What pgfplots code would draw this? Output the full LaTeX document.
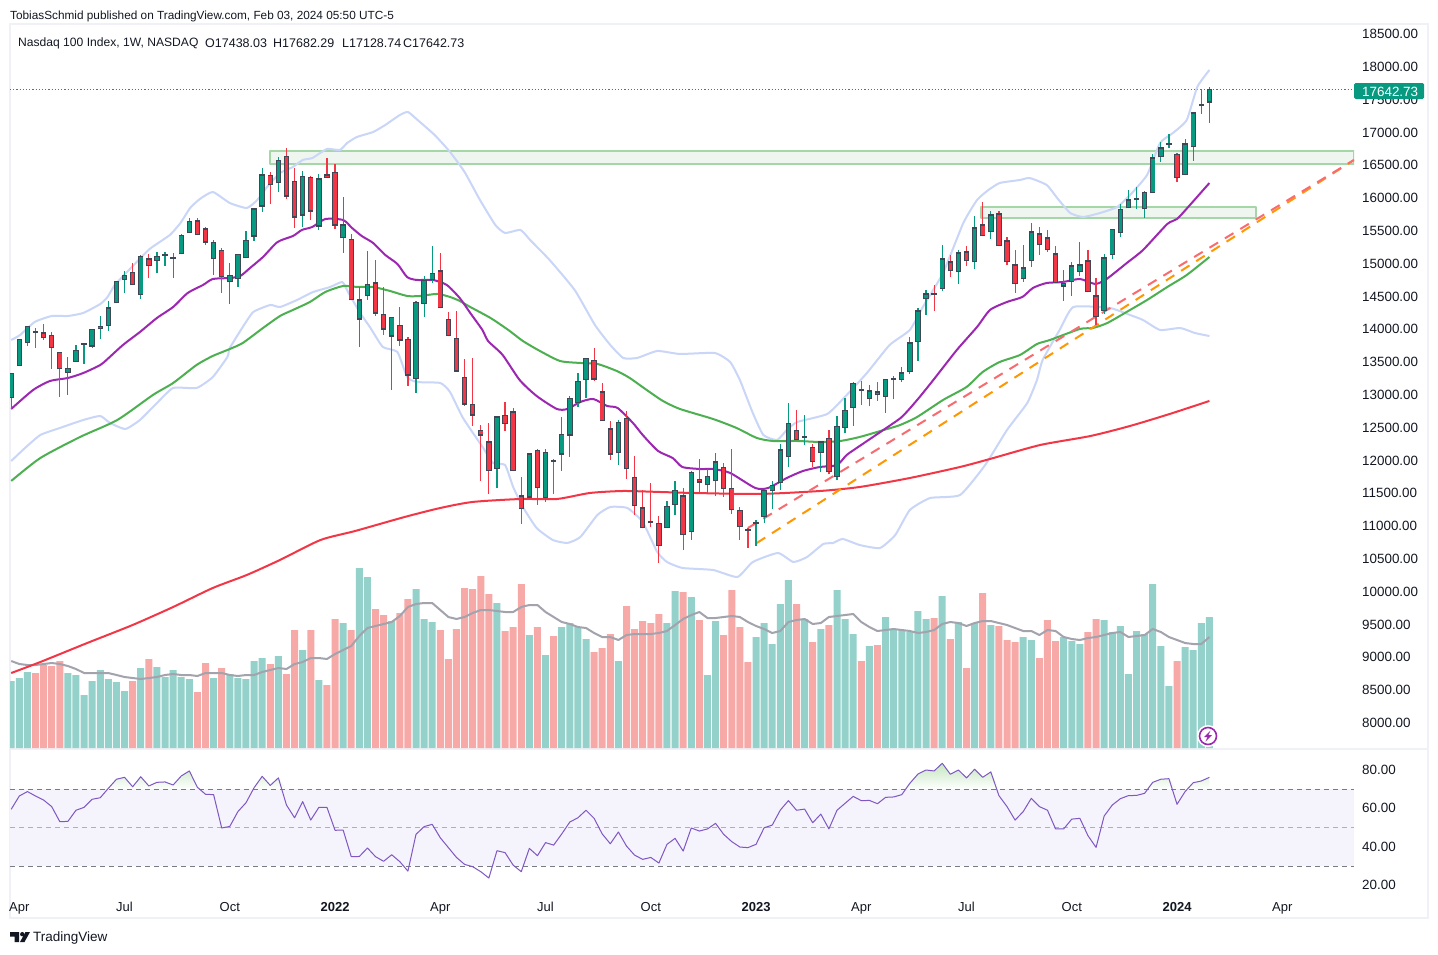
\documentclass[border=0pt]{standalone}
\usepackage{pgfplots}
\usepackage{pgfplotstable}
\usepackage{fontspec}
\setmainfont{Liberation Sans}
\pgfplotsset{compat=1.18}
\definecolor{upc}{HTML}{089981}
\definecolor{dnc}{HTML}{F23645}
\definecolor{edgec}{HTML}{3F4656}
\definecolor{volupc}{HTML}{93D1CA}
\definecolor{voldnc}{HTML}{F7A9A7}
\definecolor{volma}{HTML}{A3A3AD}
\definecolor{bandc}{HTML}{C9D6F8}
\definecolor{ma20}{HTML}{9C27B0}
\definecolor{ma50}{HTML}{4CAF50}
\definecolor{ma200}{HTML}{F23645}
\definecolor{zonef}{HTML}{EAF4EA}
\definecolor{zonel}{HTML}{A5D6A7}
\definecolor{rsil}{HTML}{7E57C2}
\definecolor{rsib}{HTML}{F5F3FB}
\definecolor{rsig}{HTML}{C5E6C0}
\definecolor{rsidash}{HTML}{787B86}
\definecolor{framec}{HTML}{EFF1F7}
\definecolor{txt}{HTML}{131722}
\newcommand{\px}[1]{\fontsize{#1}{#1}\selectfont}

% weekly candles, up weeks
\pgfplotstableread{
i o h l c
0 12933 13314 12765 13314
1 13420 13832 13420 13832
2 13771 14030 13735 14030
7 13314 13557 12983 13390
8 13481 13745 13481 13664
9 13745 13771 13461 13766
10 13720 13984 13705 13984
11 13984 14187 13842 14030
12 14030 14411 13959 14319
13 14380 14716 14380 14716
14 14731 14873 14538 14807
16 14502 15117 14452 15097
18 15020 15163 14843 15097
19 15107 15158 14954 15112
20 15061 15142 14772 15066
21 15127 15437 15127 15417
22 15447 15676 15447 15630
25 15051 15341 14812 15310
27 14700 14990 14375 14807
28 14746 15127 14634 15127
29 15066 15478 15066 15341
30 15396 15838 15335 15828
31 15854 16443 15777 16346
33 16209 16605 16077 16560
36 15716 16392 15544 16316
38 15549 16351 15503 16285
41 15371 15996 15153 15584
43 14131 14624 13720 14441
44 14487 15178 14436 14670
47 13872 14167 13060 14167
50 13222 14411 13019 14396
51 14365 14797 14177 14731
52 14736 15249 14690 14838
60 11851 12658 11571 12658
64 11419 12094 11419 12094
66 11409 12160 11358 12110
68 12074 12643 11825 12384
69 12364 12968 12039 12933
70 12856 13319 12795 13192
71 13207 13542 12938 13542
75 12094 12602 11922 12567
81 10951 11363 10951 11287
82 11302 11673 11155 11531
84 10890 11820 10779 11805
86 11607 11856 11495 11744
87 11668 12094 11449 11972
92 11023 11073 10687 11033
93 11119 11531 11038 11531
94 11515 11668 11251 11607
95 11637 12232 11536 12155
96 12033 12856 11886 12552
98 12333 12679 12226 12343
100 12094 12277 11805 12277
102 11729 12658 11688 12506
103 12475 12933 12399 12750
104 12780 13182 12516 13161
106 12917 13130 12815 13054
108 12957 13222 12714 13222
109 13206 13267 12917 13237
110 13216 13404 13186 13328
111 13328 13867 13303 13785
112 13785 14304 13506 14273
113 14441 14578 14207 14532
115 14593 15264 14563 15066
117 14852 15188 14680 15157
119 15005 15706 14908 15538
121 15462 15782 15365 15736
125 14746 15264 14710 14928
126 15020 15599 14939 15477
130 14634 14883 14421 14695
131 14700 15005 14497 14959
132 14852 15310 14791 14974
135 14258 15132 14212 15081
136 15112 15508 15061 15508
137 15447 15889 15396 15813
138 15828 16102 15828 15965
139 15950 16148 15823 15980
140 15813 16087 15686 16072
141 16056 16651 16056 16605
142 16605 16834 16534 16757
143 16798 16956 16752 16808
145 16331 16879 16331 16818
146 16757 17291 16554 17291
147 17382 17641 17271 17398
148 17438.03 17682.29 17128.74 17642.73
}\upcandles

% weekly candles, down weeks
\pgfplotstableread{
i o h l c
3 13954 13999 13705 13923
4 13938 14060 13822 13847
5 13903 13944 13385 13695
6 13634 13634 12958 13375
15 14853 14990 14655 14655
17 15066 15127 14772 14944
23 15645 15676 15417 15417
24 15523 15539 15274 15305
26 15188 15219 14543 14777
32 16331 16377 15899 16179
34 16621 16743 15976 16006
35 16240 16443 15534 15686
37 16301 16316 15650 15777
39 16346 16595 16296 16296
40 16377 16504 15518 15564
42 15356 15437 14426 14426
45 14700 15041 14192 14223
46 14213 14624 13903 13979
48 14045 14325 13735 13811
49 13832 13862 13126 13278
53 14883 15142 14304 14304
54 14137 14248 13877 13877
55 13847 14258 13339 13339
56 13253 13532 12816 12836
57 12841 13547 12511 12668
58 12445 12526 11673 12364
59 12277 12557 11475 11820
61 12674 12877 12435 12536
62 12734 12780 11820 11820
63 11454 11734 11023 11241
65 12140 12160 11307 11561
67 11993 12003 11475 11967
72 13512 13700 13202 13217
73 13039 13166 12582 12582
74 12475 12587 11993 12074
76 12628 12740 11703 11851
77 11729 12054 11155 11287
78 11271 11536 10951 10951
79 11043 11637 10972 11028
80 11028 11139 10428 10677
83 11454 11566 10626 10845
85 11708 12008 11505 11647
88 11881 11942 11424 11546
89 11561 12160 11175 11226
90 11226 11277 10774 10967
91 10926 10962 10657 10916
97 12445 12750 12293 12293
99 12186 12232 11886 11957
101 12323 12445 11774 11805
105 13069 13196 12835 13039
107 13039 13181 12896 12978
114 14532 14654 14268 14502
116 15020 15111 14781 14867
118 15172 15254 14949 15020
120 15584 15919 15401 15401
122 15751 15782 15248 15248
123 15340 15386 14969 15005
124 14974 15188 14542 14669
127 15447 15538 15121 15264
128 15386 15492 15167 15188
129 15142 15249 14685 14685
133 15035 15188 14548 14548
134 14502 14761 14045 14167
144 16651 16666 16234 16285
}\dncandles

\pgfplotstableread{
i v
0 67
1 70
2 76
7 75
8 73
9 53
10 67
11 78
12 69
13 66
14 57
16 80
18 81
19 71
20 78
21 71
22 69
25 70
27 74
28 70
29 69
30 87
31 90
33 92
36 98
38 68
41 125
43 180
44 171
47 127
50 159
51 129
52 126
60 145
64 113
66 93
68 121
69 125
70 121
71 109
75 87
81 125
82 157
84 151
86 73
87 127
92 111
93 125
94 104
95 144
96 168
98 129
100 119
102 158
103 129
104 114
106 102
108 131
109 119
110 118
111 116
112 137
113 129
115 152
117 126
119 125
121 123
125 111
126 108
130 111
131 107
132 104
135 128
136 116
137 122
138 74
139 117
140 114
141 164
142 102
143 62
145 101
146 98
147 125
148 131
}\volup

\pgfplotstableread{
i v
3 75
4 83
5 82
6 87
15 67
17 89
23 56
24 85
26 80
32 84
34 74
35 118
37 118
39 63
40 129
42 118
45 139
46 133
48 135
49 149
53 118
54 89
55 119
56 160
57 159
58 172
59 154
61 117
62 121
63 164
65 121
67 112
72 96
73 100
74 114
76 142
77 119
78 127
79 125
80 134
83 156
85 128
88 113
89 158
90 121
91 86
97 144
99 106
101 123
105 87
107 103
114 130
116 109
118 80
120 155
122 122
123 108
124 106
127 90
128 128
129 107
133 116
134 129
144 87
}\voldn

\pgfplotstableread{
i r
0 59.6
1 66.5
2 68.8
3 66.5
4 64.4
5 61.0
6 53.2
7 53.3
8 59.1
9 60.6
10 64.8
11 65.6
12 70.5
13 75.2
14 76.2
15 71.3
16 76.5
17 71.7
18 73.6
19 73.8
20 72.2
21 76.9
22 79.5
23 71.0
24 67.4
25 67.2
26 49.9
27 50.7
28 58.4
29 63.0
30 70.8
31 76.7
32 72.0
33 75.9
34 61.8
35 55.2
36 63.6
37 54.0
38 60.6
39 60.6
40 48.7
41 48.8
42 35.0
43 35.1
44 39.5
45 35.0
46 32.6
47 36.0
48 32.4
49 27.5
50 46.6
51 50.6
52 51.8
53 44.8
54 39.7
55 34.6
56 31.0
57 29.8
58 27.2
59 23.9
60 38.1
61 37.1
62 30.6
63 27.2
64 39.3
65 35.5
66 42.3
67 41.0
68 46.8
69 53.0
70 55.2
71 59.1
72 54.9
73 46.8
74 41.7
75 47.8
76 40.5
77 35.8
78 33.6
79 34.6
80 31.7
81 41.4
82 44.5
83 37.9
84 49.9
85 48.3
86 49.4
87 52.3
88 46.6
89 42.8
90 40.0
91 39.7
92 41.4
93 50.0
94 51.4
95 59.2
96 64.1
97 59.1
98 59.7
99 52.6
100 57.1
101 49.4
102 59.1
103 62.7
104 66.3
105 64.1
106 64.2
107 62.5
108 65.8
109 66.0
110 67.2
111 73.1
112 77.9
113 80.0
114 79.5
115 83.5
116 77.8
117 80.0
118 75.9
119 80.4
120 76.2
121 79.0
122 66.7
123 61.0
124 54.0
125 58.4
126 65.3
127 61.0
128 59.1
129 49.4
130 49.4
131 54.5
132 54.9
133 45.9
134 39.8
135 56.1
136 61.8
137 65.1
138 66.7
139 66.8
140 67.9
141 73.6
142 75.2
143 75.5
144 62.2
145 68.8
146 73.4
147 74.3
148 76.2
}\rsitable

\begin{document}
\begin{tikzpicture}
\useasboundingbox (0,0) rectangle (1438pt,-954pt);
\fill[white] (0,0) rectangle (1438pt,-954pt);
\begin{scope}[x=1pt,y=-1pt]
\draw[framec,line width=2pt] (10,24) rectangle (1428,918);
\draw[framec,line width=2pt] (10,748.5) -- (1428,748.5);
\end{scope}

% volume
\begin{axis}[
  at={(10pt,-748pt)},anchor=south west,scale only axis,
  width=1344pt,height=724pt,
  xmin=-0.15,xmax=165.86,ymin=0,ymax=724,
  hide axis,ybar,bar width=7pt,bar shift=0pt]
\addplot[fill=volupc,draw=none] table[x=i,y=v]{\volup};
\addplot[fill=voldnc,draw=none] table[x=i,y=v]{\voldn};
\addplot[sharp plot,volma,line width=2pt,no markers,line join=round] coordinates {
(0,87)(1,84)(2,83)(3,83)(4,84)(5,85)(6,84)(7,82)(8,79)(9,75)(10,75)(11,75)(12,75)(13,73)(14,71)(15,70)(16,69)(17,70)(18,71)(19,73)
(20,74)(21,73)(22,73)(23,72)(24,75)(25,75)(26,75)(27,73)(28,72)(29,73)(30,73)(31,76)(32,78)(33,80)(34,79)(35,84)(36,86)(37,90)(38,90)(39,89)
(40,94)(41,98)(42,102)(43,112)(44,120)(45,122)(46,124)(47,126)(48,132)(49,141)(50,144)(51,145)(52,145)(53,138)(54,131)(55,129)(56,131)(57,135)(58,138)(59,138)
(60,137)(61,136)(62,136)(63,141)(64,143)(65,143)(66,136)(67,131)(68,126)(69,124)(70,121)(71,120)(72,115)(73,111)(74,111)(75,108)(76,113)(77,114)(78,114)(79,114)
(80,115)(81,117)(82,123)(83,129)(84,133)(85,136)(86,130)(87,130)(88,131)(89,132)(90,131)(91,126)(92,122)(93,119)(94,115)(95,117)(96,126)(97,128)(98,129)(99,124)
(100,125)(101,131)(102,132)(103,133)(104,134)(105,126)(106,121)(107,117)(108,118)(109,119)(110,118)(111,117)(112,115)(113,116)(114,118)(115,124)(116,126)(117,125)(118,122)(119,125)
(120,127)(121,127)(122,125)(123,123)(124,120)(125,117)(126,117)(127,113)(128,118)(129,117)(130,111)(131,109)(132,108)(133,110)(134,111)(135,113)(136,115)(137,116)(138,111)(139,112)
(140,113)(141,119)(142,116)(143,111)(144,108)(145,105)(146,104)(147,104)(148,111)};
\end{axis}

% price
\begin{axis}[
  at={(10pt,-748pt)},anchor=south west,scale only axis,
  width=1344pt,height=724pt,
  xmin=-0.15,xmax=165.86,ymin=7603,ymax=18637,
  axis line style={draw=none},tick style={draw=none},
  xtick=\empty,
  ytick={8000,8500,...,18500},yticklabel pos=right,
  scaled y ticks=false,
  yticklabel style={font=\px{13.4},text=txt,inner sep=0pt,xshift=8pt,yshift=-1pt,
    /pgf/number format/.cd,fixed,fixed zerofill,precision=2,1000 sep={},assume math mode=true},
  line join=round]
% zones
\addplot[fill=zonef,draw=zonel,line width=2pt,fill opacity=.75] coordinates {(32,16702)(165.86,16702)(165.86,16504)(32,16504)} --cycle;
\addplot[fill=zonef,draw=zonel,line width=2pt,fill opacity=.75] coordinates {(119.8,15848)(153.8,15848)(153.8,15681)(119.8,15681)} --cycle;
% last price
\addplot[upc,line width=1.2pt,dash pattern=on 1.2pt off 2pt] coordinates {(-0.15,17642.73)(165.86,17642.73)};
% bollinger
\addplot[bandc,line width=2pt,smooth,tension=0.3] coordinates {
(0,13821)(1.1,13898)(2.9,14096)(5,14187)(7,14187)(8.9,14233)(11,14370)(11.9,14477)(12.8,14660)(14.9,14934)(17.1,15208)(19.6,15422)(20.9,15604)(22.1,15833)(23.3,15970)(24.9,16077)(27,15909)(29.1,15833)(30.4,15955)(31.6,16153)(33.2,16366)(34.8,16458)(36,16565)(37.2,16595)(39,16732)(40.6,16717)(41.5,16824)(42.7,16915)(44.7,16991)(46.2,17098)(48,17250)(49,17296)(50.2,17174)(52.3,16946)(54.2,16687)(56,16382)(57.9,15955)(59.8,15574)(61,15452)(62.9,15498)(64.1,15345)(66.5,15041)(69.6,14583)(72.1,14050)(74,13745)(75.6,13547)(77.3,13547)(79.8,13654)(82.6,13608)(86.9,13623)(88.8,13486)(90,13212)(91.6,12709)(92.9,12374)(94.6,12297)(95.8,12450)(97.1,12572)(100.8,12694)(103.2,12983)(105.7,13319)(108.5,13745)(111,13974)(112.6,14324)(115.1,14843)(117.6,15604)(119.3,15955)(120.7,16107)(122.1,16214)(124.6,16260)(125.8,16290)(127.9,16184)(129.2,15985)(130.8,15757)(132.4,15696)(134.5,15757)(136.6,15848)(138.2,16031)(140.3,16336)(141.9,16824)(143.5,16976)(145.2,17174)(146.5,17677)(148,17936)};
\addplot[bandc,line width=2pt,smooth,tension=0.3] coordinates {
(0,11977)(1.7,12175)(3.6,12374)(6,12480)(8.9,12602)(11,12663)(12.2,12557)(14.1,12465)(15.9,12602)(18,12861)(20,13090)(22.9,13090)(24.9,13257)(26.7,13562)(27,13700)(28.6,14019)(29.9,14248)(32,14355)(33.2,14324)(35.3,14431)(37.3,14553)(39.4,14629)(40.9,14705)(41.6,14553)(43.1,14233)(44.3,14019)(45.9,13715)(47.7,13639)(48.9,13258)(50.1,13181)(53,13166)(54.2,13029)(55.8,12633)(58.3,12176)(59.5,11947)(61,11916)(62,11581)(63.2,11276)(64.9,10956)(66.9,10773)(68.7,10728)(70.3,10819)(72.4,11154)(74,11276)(76.1,11261)(78,11048)(79.8,10590)(81,10438)(82.9,10347)(86.7,10316)(89.7,10209)(91.6,10438)(94.7,10575)(96.6,10438)(98.3,10514)(100.3,10712)(101.5,10727)(102.7,10789)(104.8,10697)(107.3,10651)(109.2,10850)(111,11231)(113.5,11413)(117.2,11459)(120.3,11916)(123,12450)(125.5,12861)(126.7,13212)(127.4,13517)(129.5,13974)(131.2,14324)(135.7,14309)(138.2,14202)(139.8,14126)(141.9,13974)(144.4,14004)(146.2,13928)(148,13882)};
% moving averages
\addplot[ma200,line width=2pt,smooth,tension=0.4] coordinates {
(0,8746)(3.6,8914)(9.4,9204)(15,9478)(20,9752)(24.9,10042)(29.1,10240)(33.2,10469)(38.2,10773)(42.5,10911)(48.6,11124)(53,11261)(57,11353)(62.9,11398)(67.4,11398)(71.5,11490)(75.6,11520)(80.1,11505)(84.2,11490)(92.5,11475)(99.9,11520)(104.8,11581)(111,11718)(117.2,11886)(120.9,12008)(127.1,12221)(133.3,12358)(138.2,12511)(143.1,12694)(148,12892)};
\addplot[ma50,line width=2pt,smooth,tension=0.4] coordinates {
(0,11673)(3.6,12023)(8.5,12343)(13.1,12602)(17.5,12983)(20,13166)(22.9,13441)(24.9,13578)(27,13684)(28.6,13776)(31.1,14004)(33.2,14187)(34.8,14279)(36.9,14401)(38.8,14553)(41,14644)(42.8,14629)(44.7,14629)(46.8,14568)(48.9,14492)(50.5,14492)(52.6,14523)(54.2,14477)(55.4,14416)(56.7,14324)(59.2,14157)(61.4,13974)(63.2,13806)(65.3,13654)(67.8,13501)(70.3,13471)(72.4,13456)(74.8,13349)(76.4,13242)(78.5,13059)(80.5,12892)(82.6,12770)(86.7,12617)(89.6,12480)(92.1,12328)(94.1,12282)(97.1,12282)(99.9,12267)(102.4,12282)(104.8,12343)(108.2,12465)(109.8,12526)(111.9,12648)(115.1,12907)(118,13105)(120,13334)(122.1,13486)(124.6,13593)(126.7,13760)(128.3,13821)(132,13989)(133.6,14004)(135.4,14081)(138.2,14279)(140.3,14431)(142.8,14629)(145.2,14812)(148,15086)};
\addplot[ma20,line width=2pt,smooth,tension=0.4] coordinates {
(0,12770)(2.7,13059)(4.8,13197)(7,13242)(8.9,13318)(11,13440)(11.9,13532)(13.8,13745)(15.9,13943)(18,14157)(20,14324)(21.8,14538)(23.7,14660)(24.9,14751)(27,14766)(28.3,14797)(29.5,14919)(31.1,15086)(32.9,15315)(34.8,15406)(35.9,15498)(37.2,15544)(38.8,15665)(41,15650)(42.1,15528)(43.3,15406)(44.7,15300)(46.2,15117)(47.7,14980)(48.9,14781)(50.1,14736)(52.1,14736)(53.8,14660)(55.4,14461)(56.7,14233)(58.2,13974)(58.9,13806)(60.7,13593)(62.8,13212)(64.9,12968)(67.4,12770)(68.7,12770)(70.3,12877)(71.9,12922)(73.6,12816)(74.9,12785)(76.8,12556)(78,12374)(79.9,12130)(81.7,12023)(82.9,11886)(85.1,11855)(86.7,11855)(88.8,11795)(91.9,11566)(93.5,11566)(95.8,11718)(97.8,11825)(99.9,11886)(102,11916)(103.2,12069)(104.8,12206)(107.9,12465)(110,12648)(111.9,12907)(113.9,13212)(116.8,13669)(119.3,14020)(120.9,14279)(123,14401)(124.9,14477)(126.2,14614)(127.9,14690)(129.9,14705)(132,14751)(133.9,14675)(135.3,14751)(137.8,14995)(139.8,15193)(142.8,15589)(144,15665)(145.6,15879)(148,16214)};
% trend lines
\addplot[color={rgb,255:red,255;green,152;blue,0},line width=2pt,dash pattern=on 10pt off 8pt] coordinates {(92.1,10728)(165.86,16565)};
\addplot[color={rgb,255:red,250;green,107;blue,112},line width=2pt,dash pattern=on 10pt off 8pt] coordinates {(91,10956)(165.86,16565)};
% candles
\addplot[quiver={u=0,v={\thisrow{h}-\thisrow{l}}},upc,line width=1.2pt] table[x=i,y=l]{\upcandles};
\addplot[quiver={u=0,v={\thisrow{h}-\thisrow{l}}},dnc,line width=1.2pt] table[x=i,y=l]{\dncandles};
\addplot[quiver={u=0,v={max(\thisrow{c}-\thisrow{o},30)}},edgec,line width=5.4pt] table[x=i,y=o]{\upcandles};
\addplot[quiver={u=0,v={max(\thisrow{o}-\thisrow{c},30)}},edgec,line width=5.4pt] table[x=i,y=c]{\dncandles};
\addplot[quiver={u=0,v={max(\thisrow{c}-\thisrow{o}-36,0)}},upc,line width=3.6pt] table[x=i,y expr=\thisrow{o}+18]{\upcandles};
\addplot[quiver={u=0,v={max(\thisrow{o}-\thisrow{c}-36,0)}},dnc,line width=3.6pt] table[x=i,y expr=\thisrow{c}+18]{\dncandles};
\end{axis}

% rsi
\begin{axis}[
  at={(10pt,-892pt)},anchor=south west,scale only axis,
  width=1344pt,height=143pt,
  xmin=-0.15,xmax=165.86,ymin=16.65,ymax=90.9,
  axis line style={draw=none},tick style={draw=none},
  xtick={1,14,27,40,53,66,79,92,105,118,131,144,157},
  xticklabels={Apr,Jul,Oct,\textbf{2022},Apr,Jul,Oct,\textbf{2023},Apr,Jul,Oct,\textbf{2024},Apr},
  xticklabel style={font=\px{13},text=txt,inner sep=0pt,yshift=-10pt},
  ytick={20,40,60,80},yticklabel pos=right,
  yticklabel style={font=\px{13.4},text=txt,inner sep=0pt,xshift=8pt,yshift=0.5pt,
    /pgf/number format/.cd,fixed,fixed zerofill,precision=2,assume math mode=true},
  line join=round]
\addplot[fill=rsib,draw=none] coordinates {(-0.15,30)(165.86,30)(165.86,70)(-0.15,70)} --cycle;
\addplot[draw=none,top color=rsig,bottom color=white,restrict y to domain*=70:100] table[x=i,y=r]{\rsitable} -- (axis cs:148,70) -- cycle;
\addplot[rsidash,line width=1pt,dash pattern=on 5pt off 4pt] coordinates {(-0.15,70)(165.86,70)};
\addplot[rsidash!60,line width=1pt,dash pattern=on 5pt off 4pt] coordinates {(-0.15,50)(165.86,50)};
\addplot[rsidash,line width=1pt,dash pattern=on 5pt off 4pt] coordinates {(-0.15,30)(165.86,30)};
\addplot[rsil,line width=1pt] table[x=i,y=r]{\rsitable};
\end{axis}

\begin{scope}[x=1pt,y=-1pt]
% header
\node[anchor=west,inner sep=0pt,text=txt,font=\px{11.8}] at (10,16) {TobiasSchmid published on TradingView.com, Feb 03, 2024 05:50 UTC-5};
\node[anchor=west,inner sep=0pt,text=txt,font=\px{12.1}] at (18,43) {Nasdaq 100 Index, 1W, NASDAQ};
\node[anchor=west,inner sep=0pt,text=txt,font=\px{12.5}] at (205,43) {O17438.03};
\node[anchor=west,inner sep=0pt,text=txt,font=\px{12.5}] at (273,43) {H17682.29};
\node[anchor=west,inner sep=0pt,text=txt,font=\px{12.5}] at (342,43) {L17128.74};
\node[anchor=west,inner sep=0pt,text=txt,font=\px{12.5}] at (403,43) {C17642.73};
% price tag
\fill[upc,rounded corners=1.5pt] (1354,83) rectangle (1424,99);
\node[anchor=west,inner sep=0pt,text=white,font=\px{13.4}] at (1362,91.5) {17642.73};
% bolt badge
\fill[white] (1208,736) circle (11);
\draw[ma20,line width=1.6pt] (1208,736) circle (8.5);
\fill[ma20] (1210.5,730.5) -- (1204,737) -- (1207.5,737) -- (1205.5,741.5) -- (1212,735) -- (1208.5,735) -- cycle;
% logo
\fill[txt] (10,932) -- (19,932) -- (19,942) -- (14.5,942) -- (14.5,936.5) -- (10,936.5) -- cycle;
\fill[txt] (22.3,934.2) circle (2.2);
\fill[txt] (20,942) -- (24.5,942) -- (30,932) -- (25.5,932) -- cycle;
\node[anchor=west,inner sep=0pt,text=txt,font=\px{13.5}] at (33,938) {TradingView};
\end{scope}
\end{tikzpicture}
\end{document}
